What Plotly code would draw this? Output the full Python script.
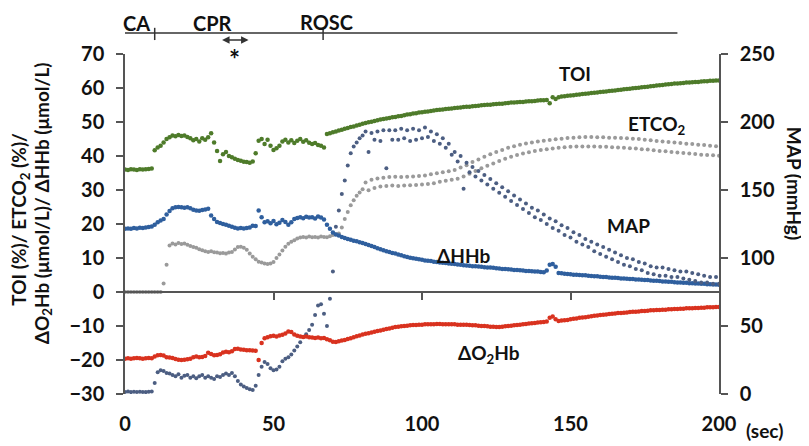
import plotly.graph_objects as go

# ---------------- data ----------------
t = list(range(0, 201))  # seconds, 1-s grid

toi = (
    [36.0, 35.9, 36.1, 36.0, 35.9, 36.1, 36.0, 36.1, 36.2, 36.3]
    + [41.7, 42.5, 43.0, 44.0, 45.0, 45.5]
    + [46.0, 45.8, 46.2, 45.9, 46.0, 45.6]
    + [45.2, 44.6, 45.0, 44.3, 45.2, 44.8, 45.5, 46.7]
    + [44.0, 41.5, 38.5, 40.5, 41.2, 40.0, 39.6, 39.2, 38.8, 38.6,
       38.3, 38.2, 38.0, 38.4, 40.8, 44.5, 45.0, 43.5, 44.8, 43.0,
       41.8, 42.3, 43.0, 44.3, 44.8, 44.0, 44.6, 43.8, 44.5, 45.0,
       44.2, 44.6, 43.9, 43.5, 43.8, 43.2, 43.0, 42.5, 46.5, 46.7,
       47.0]
    + [47.2, 47.5, 47.7, 48.0, 48.2, 48.5, 48.7, 49.0, 49.2, 49.5]
    + [49.7, 49.9, 50.1, 50.3, 50.5, 50.7, 50.9, 51.0, 51.2, 51.4]
    + [51.5, 51.7, 51.8, 52.0, 52.2, 52.3, 52.5, 52.6, 52.8, 52.9]
    + [53.0, 53.1, 53.2, 53.4, 53.5, 53.6, 53.7, 53.8, 53.9, 54.0]
    + [54.1, 54.2, 54.3, 54.4, 54.5, 54.5, 54.6, 54.7, 54.8, 54.9]
    + [55.0, 55.1, 55.1, 55.2, 55.3, 55.4, 55.4, 55.5, 55.6, 55.7]
    + [55.7, 55.8, 55.9, 55.9, 56.0, 56.1, 56.1, 56.2, 56.3, 56.4]
    + [56.4, 56.5, 55.5, 57.3, 56.8, 57.3, 57.5, 57.6, 57.7, 57.8]
    + [57.9, 58.0, 58.1, 58.2, 58.3, 58.4, 58.5, 58.6, 58.7, 58.8]
    + [58.9, 59.0, 59.1, 59.2, 59.3, 59.4, 59.5, 59.6, 59.7, 59.8]
    + [59.9, 60.0, 60.1, 60.2, 60.3, 60.4, 60.5, 60.6, 60.7, 60.8]
    + [60.9, 61.0, 61.1, 61.2, 61.3, 61.3, 61.4, 61.5, 61.6, 61.6]
    + [61.7, 61.8, 61.8, 61.9, 62.0, 62.0, 62.1, 62.1, 62.2, 62.2]
)

hhb = (
    [18.6, 18.7, 18.6, 18.8, 18.7, 18.9, 18.8, 19.0, 19.1, 19.3]
    + [19.8, 20.5, 21.0, 21.5, 22.8, 23.8]
    + [24.6, 24.9, 25.0, 24.9, 24.8, 24.9, 24.6]
    + [24.2, 24.0, 23.9, 24.1, 24.3, 24.5]
    + [22.5, 21.5, 20.6, 20.3, 20.0]
    + [19.8, 19.5, 19.2, 18.9, 18.7, 18.8, 18.7, 18.8, 19.0, 19.5]
    + [19.4, 24.0, 22.0, 20.5, 20.8, 20.2,
       20.9, 19.9, 20.4, 21.2, 20.6, 19.8, 20.5, 21.5, 21.8, 22.0,
       21.7, 22.1, 21.9, 22.0, 21.6, 22.2, 21.9, 21.3, 19.8, 18.6,
       17.5]
    + [16.9, 16.6, 16.2, 15.9, 15.6, 15.4, 15.1, 14.9, 14.6, 14.4]
    + [14.1, 13.8, 13.5, 13.2, 12.9, 12.6, 12.3, 12.0, 11.8, 11.5]
    + [11.3, 11.0, 10.8, 10.5, 10.3, 10.1, 9.9, 9.8, 9.6, 9.5]
    + [9.3, 9.2, 9.1, 8.9, 8.8, 8.7, 8.6, 8.5, 8.4, 8.3]
    + [8.2, 8.1, 8.0, 7.9, 7.8, 7.7, 7.6, 7.6, 7.5, 7.4]
    + [7.3, 7.2, 7.2, 7.1, 7.0, 6.9, 6.8, 6.8, 6.7, 6.6]
    + [6.5, 6.5, 6.4, 6.3, 6.2, 6.2, 6.1, 6.0, 6.0, 5.9]
    + [5.8, 6.3, 8.0, 8.2, 7.4, 5.6, 5.5, 5.4, 5.3, 5.2]
    + [5.1, 5.1, 5.0, 4.9, 4.9, 4.8, 4.7, 4.6, 4.6, 4.5]
    + [4.4, 4.4, 4.3, 4.2, 4.2, 4.1, 4.0, 4.0, 3.9, 3.8]
    + [3.8, 3.7, 3.7, 3.6, 3.5, 3.5, 3.4, 3.3, 3.3, 3.2]
    + [3.1, 3.1, 3.0, 3.0, 2.9, 2.8, 2.8, 2.7, 2.7, 2.6]
    + [2.6, 2.5, 2.5, 2.4, 2.4, 2.3, 2.3, 2.2, 2.2, 2.1]
)

o2hb = (
    [-19.6, -19.5, -19.6, -19.5, -19.4, -19.5, -19.6, -19.5, -19.4, -19.5]
    + [-19.0, -18.6, -18.5, -18.7]
    + [-19.2, -19.3, -19.4]
    + [-19.7, -19.9, -20.0, -19.9, -19.8, -19.6]
    + [-19.2, -19.0, -19.2, -19.1, -18.8]
    + [-17.9, -18.2, -18.6, -18.5, -18.3]
    + [-17.8, -17.6, -17.7, -17.4]
    + [-16.8, -16.7, -16.9, -17.0, -17.1, -17.1, -17.2, -17.3]
    + [-20.0, -15.0, -13.6]
    + [-13.3, -13.0, -12.9, -13.1, -12.8, -12.6]
    + [-12.2, -11.6, -11.8]
    + [-12.5, -12.9, -13.1, -13.2]
    + [-13.1, -13.3, -13.4, -13.5, -13.4, -13.6, -13.5]
    + [-13.9, -14.2, -14.6, -14.7, -14.5, -14.3, -14.1, -13.8]
    + [-13.6, -13.3, -13.0, -12.8, -12.5]
    + [-12.3, -12.1, -11.9, -11.7, -11.5, -11.3, -11.1, -10.9, -10.7, -10.5]
    + [-10.3, -10.2, -10.1, -10.0, -9.9, -9.8, -9.7, -9.7, -9.6, -9.6]
    + [-9.5, -9.5, -9.5, -9.5, -9.4, -9.4, -9.5, -9.5, -9.5, -9.5]
    + [-9.5, -9.6, -9.6, -9.6, -9.6, -9.7, -9.8, -9.8, -9.9, -10.0]
    + [-10.0, -10.1, -10.2, -10.2, -10.3, -10.3, -10.2, -10.1, -10.0, -9.9]
    + [-9.8, -9.7, -9.6, -9.5, -9.4, -9.3, -9.2, -9.1, -9.0, -8.9]
    + [-8.8, -8.7, -7.6, -7.2, -8.0, -8.5, -8.4, -8.3, -8.2, -8.0]
    + [-7.9, -7.8, -7.6, -7.5, -7.4, -7.3, -7.1, -7.0, -6.9, -6.8]
    + [-6.7, -6.6, -6.5, -6.4, -6.3, -6.2, -6.2, -6.1, -6.0, -5.9]
    + [-5.8, -5.8, -5.7, -5.6, -5.6, -5.5, -5.4, -5.4, -5.3, -5.3]
    + [-5.2, -5.2, -5.1, -5.1, -5.0, -5.0, -4.9, -4.9, -4.8, -4.8]
    + [-4.8, -4.7, -4.7, -4.6, -4.6, -4.5, -4.5, -4.5, -4.4, -4.4]
)

etco2 = (
    [0.0] * 13
    + [2.5, 8.0, 13.7]
    + [14.3, 14.0, 14.4, 14.1, 14.3, 13.9]
    + [13.5, 13.2, 13.0, 12.6, 12.3, 12.0, 11.8, 12.0, 11.7]
    + [11.6, 11.4, 11.5, 11.3, 11.6, 11.8, 12.5]
    + [13.2, 13.3, 13.0, 12.4]
    + [11.3, 10.4, 9.6, 8.9, 8.7]
    + [8.4, 8.2, 8.4, 8.8]
    + [10.0, 11.0, 12.2, 13.3, 14.2, 14.8, 15.2]
    + [15.7, 16.0, 16.2, 16.0, 16.3, 16.1, 16.2, 16.0, 16.3, 16.2, 16.1]
    + [16.4, 16.8, 17.0, 17.2]
    + [19.0, 21.5, 23.5, 25.5, 27.0, 28.3, 29.3, 30.2]
    + [32.2, 29.9, 33.0, 30.6, 33.4, 31.0, 33.6, 31.2, 33.8, 31.3]
    + [33.9, 31.2, 33.8, 31.3, 33.9, 31.4, 34.0, 31.5, 34.1, 31.6]
    + [34.3, 31.8, 34.6, 32.0, 34.9, 32.4, 35.2, 32.7, 35.5, 33.0]
    + [35.9, 33.3, 36.6, 34.0, 37.3, 34.8, 38.2, 35.6, 39.0, 36.4]
    + [39.8, 37.1, 40.5, 37.8, 41.2, 38.5, 41.8, 39.2, 42.4, 39.8]
    + [42.9, 40.3, 43.3, 40.7, 43.7, 41.1, 44.0, 41.5, 44.3, 41.8]
    + [44.5, 42.0, 44.7, 42.2, 44.9, 42.4, 45.1, 42.6, 45.3, 42.7]
    + [45.4, 42.8, 45.5, 42.8, 45.6, 42.8, 45.6, 42.8, 45.5, 42.7]
    + [45.5, 42.7, 45.4, 42.6, 45.4, 42.5, 45.3, 42.4, 45.2, 42.3]
    + [45.1, 42.2, 45.0, 42.0, 44.8, 41.9, 44.6, 41.7, 44.4, 41.5]
    + [44.3, 41.4, 44.1, 41.2, 44.0, 41.0, 43.8, 40.9, 43.6, 40.7]
    + [43.5, 40.6, 43.3, 40.4, 43.2, 40.3, 43.0, 40.2, 42.9, 40.1]
)

map_mmhg = (
    [1.5, 1.8, 1.4, 1.6, 1.5, 1.7, 1.5, 1.4, 1.6, 1.8]
    + [8.0, 16.0, 17.5, 17.0, 15.5]
    + [15.0, 14.0, 13.0, 14.5, 12.0, 13.5, 14.0, 12.0, 13.0, 11.5, 13.0,
       14.0, 12.0, 13.0, 12.0, 11.0, 13.0, 12.5, 14.0, 15.0, 14.0, 15.5]
    + [13.0, 9.5, 7.0, 5.5, 4.5, 3.5, 3.0]
    + [6.0, 14.0, 20.0, 23.5, 22.0, 19.0, 17.5, 18.0, 20.0, 24.0, 26.0, 27.0, 29.0]
    + [32.0, 35.0, 38.0, 42.0, 44.0, 47.0, 51.0, 58.0, 65.0, 66.0, 59.0, 50.0, 70.0, 90.0]
    + [123, 135, 147, 157, 168, 177, 182, 185, 188, 190]
    + [193, 178, 192, 187, 193, 186, 194, 166, 194, 187]
    + [194, 187, 195, 188, 194, 186, 195, 187, 194, 188]
    + [196, 189, 193, 186, 191, 184, 188, 181, 184, 176]
    + [178, 171, 175, 151, 170, 163, 167, 160, 164, 157]
    + [161, 154, 158, 151, 155, 148, 152, 145, 149, 142]
    + [146, 139, 143, 136, 140, 133, 137, 130, 135, 128]
    + [132, 125, 129, 122, 127, 120, 124, 117, 122, 115]
    + [119, 112, 117, 110, 114, 108, 112, 105, 110, 103]
    + [108, 101, 106, 99, 104, 97, 102, 95, 100, 94]
    + [99, 92, 97, 91, 96, 89, 94, 88, 93, 87]
    + [93, 87, 92, 86, 91, 86, 90, 85, 90, 84]
    + [89, 83, 88, 82, 87, 82, 86, 81, 86, 81]
)

for name, arr in [("toi", toi), ("hhb", hhb), ("o2hb", o2hb), ("etco2", etco2), ("map", map_mmhg)]:
    assert len(arr) == len(t), (name, len(arr))

x_ticks = [0, 50, 100, 150, 200]
y_left_ticks = [-30, -20, -10, 0, 10, 20, 30, 40, 50, 60, 70]
y_right_ticks = [0, 50, 100, 150, 200, 250]

# ---------------- styling ----------------
GREEN = "#4E7B2A"
BLUE = "#2F5F9E"
MAPC = "#4C5E82"
GRAY = "#9A9A9A"
RED = "#D9321F"
AX = "#555555"
TXT = "#111111"
FONT = "Lato"

fig = go.Figure()
fig.add_trace(go.Scatter(x=t, y=etco2, mode="markers",
                         marker=dict(color=GRAY, size=4), hoverinfo="skip"))
fig.add_trace(go.Scatter(x=t, y=toi, mode="markers",
                         marker=dict(color=GREEN, size=4.5), hoverinfo="skip"))
fig.add_trace(go.Scatter(x=t, y=hhb, mode="markers",
                         marker=dict(color=BLUE, size=4.5), hoverinfo="skip"))
fig.add_trace(go.Scatter(x=t, y=map_mmhg, mode="markers", yaxis="y2",
                         marker=dict(color=MAPC, size=4), hoverinfo="skip"))
fig.add_trace(go.Scatter(x=t, y=o2hb, mode="markers", xaxis="x2",
                         marker=dict(color=RED, size=4.5), hoverinfo="skip"))

tickfont = dict(family=FONT, size=20, color=TXT, weight="bold")

# page body has an 8 px offset, so the figure is sized/margined to compensate
fig.update_layout(
    width=801, height=438,
    margin=dict(l=117, r=90, t=46, b=52, autoexpand=False),
    paper_bgcolor="white", plot_bgcolor="white",
    showlegend=False,
    font=dict(family=FONT, size=19, color=TXT, weight="bold"),
    xaxis=dict(range=[0, 200], tickvals=x_ticks, showline=False, ticks="",
               showgrid=False, zeroline=False, tickfont=tickfont,
               ticklabelstandoff=16, automargin=False),
    xaxis2=dict(range=[0, 200], overlaying="x", anchor="free", position=0.3,
                side="bottom", tickvals=[50, 100, 150], showticklabels=False,
                showline=True, linecolor=AX, linewidth=1.5,
                ticks="outside", ticklen=7, tickcolor=AX, tickwidth=1.5,
                showgrid=False, zeroline=False, automargin=False),
    yaxis=dict(range=[-30, 70], tickvals=y_left_ticks, showline=True,
               linecolor=AX, linewidth=1.5, ticks="outside", ticklen=7,
               tickcolor=AX, tickwidth=1.5, showgrid=False, zeroline=False,
               tickfont=tickfont, ticklabelstandoff=8, automargin=False),
    yaxis2=dict(range=[0, 250], tickvals=y_right_ticks, overlaying="y",
                side="right", anchor="x", showline=True, linecolor=AX,
                linewidth=1.5, ticks="outside", ticklen=7, tickcolor=AX,
                tickwidth=1.5, showgrid=False, zeroline=False,
                tickfont=tickfont, ticklabelstandoff=8, automargin=False),
)

def lab(text, x, y, size=19, xref="x", yref="y", angle=0):
    fig.add_annotation(text=text, x=x, y=y, xref=xref, yref=yref,
                       xanchor="center", yanchor="middle",
                       showarrow=False, textangle=angle,
                       font=dict(family=FONT, size=size, color=TXT, weight="bold"))

# series labels
lab("TOI", 151.5, 64.3)
lab("ETCO<sub>2</sub>", 179.0, 49.0)
lab("MAP", 169.5, 19.5)
lab("ΔHHb", 114.0, 10.8)
lab("ΔO<sub>2</sub>Hb", 122.5, -18.3)

# axis titles
lab("TOI (%)/ ETCO<sub>2</sub> (%)/", -0.177, 0.515, size=19, xref="paper", yref="paper", angle=-90)
lab("ΔO<sub>2</sub>Hb (μmol/L)/ ΔHHb (μmol/L)", -0.139, 0.562, size=19, xref="paper", yref="paper", angle=-90)
lab("MAP (mmHg)", 1.127, 0.62, size=19, xref="paper", yref="paper", angle=90)
lab("(sec)", 1.077, -0.106, size=19, xref="paper", yref="paper")

# event timeline above the plot
tl_y = 1.062
fig.add_shape(type="line", xref="x", yref="paper", x0=0, x1=186, y0=tl_y, y1=tl_y,
              line=dict(color="#333333", width=1.5))
for ev_x in [10, 66.7]:
    fig.add_shape(type="line", xref="x", yref="paper", x0=ev_x, x1=ev_x,
                  y0=1.041, y1=1.077, line=dict(color="#333333", width=1.5))
lab("CA", 4.0, 1.09, size=20, yref="paper")
lab("CPR", 29.3, 1.09, size=20, yref="paper")
lab("ROSC", 68.0, 1.093, size=20, yref="paper")
fig.add_annotation(x=41.6, y=1.041, xref="x", yref="paper", ax=-28, ay=0,
                   axref="pixel", ayref="pixel", text="", showarrow=True,
                   arrowhead=2, startarrowhead=2, arrowside="end+start",
                   arrowsize=1, startarrowsize=1,
                   arrowwidth=1.5, arrowcolor="#333333")
lab("*", 37.0, 0.985, size=26, yref="paper")

fig.write_html("out.html")
